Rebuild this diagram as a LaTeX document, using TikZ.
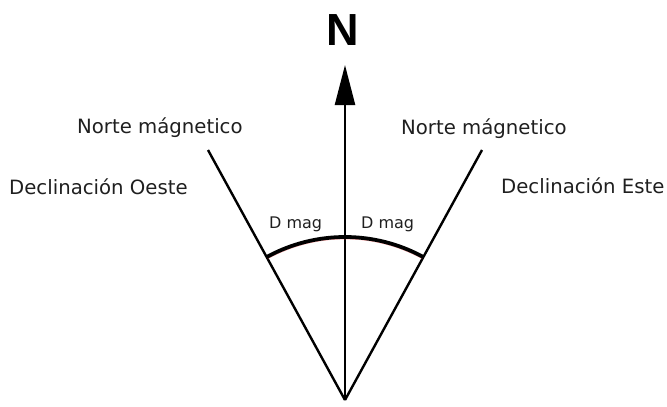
\documentclass[tikz,border=0pt]{standalone}
\usepackage{fontspec}
\setmainfont{DejaVu Sans}
\newfontfamily\arialfont{Liberation Sans}
\usetikzlibrary{arrows.meta}
\begin{document}
\begin{tikzpicture}[x=1pt,y=-1pt,
  lbl/.style={inner sep=0pt,anchor=base west,text=black!88,font=\fontsize{19.7}{23}\selectfont},
  dlbl/.style={inner sep=0pt,anchor=base west,text=black!88,font=\fontsize{16}{19}\selectfont},
  ray/.style={line width=2.4pt,black},
  arcline/.style={line width=3.8pt,black}]
\useasboundingbox (0,0) rectangle (667,407);
\coordinate (O) at (345,400);
\coordinate (Ntip) at (345,65);
\coordinate (L) at (208,150);
\coordinate (R) at (482,150);
\node[inner sep=0pt,anchor=base,font=\arialfont\bfseries\fontsize{45}{50}\selectfont] (Nlab) at (343,45) {N};
\draw[ray,-{Triangle[length=40pt,width=20pt]}] (O) -- (Ntip);
\draw[ray] (O) -- (L);
\draw[ray] (O) -- (R);
\draw[red!70,line width=0.6pt,opacity=0.5] ([shift={(-61.3:161)}]O) arc[start angle=-61.3,end angle=-118.7,radius=161];
\draw[arcline] ([shift={(-61.3:163)}]O) arc[start angle=-61.3,end angle=-118.7,radius=163];
\node[lbl] (nl) at (77,133) {Norte mágnetico};
\node[lbl] (dl) at (9,194) {Declinación Oeste};
\node[lbl] (nr) at (401,134) {Norte mágnetico};
\node[lbl] (dr) at (501,193) {Declinación Este};
\node[dlbl] (ml) at (269,228) {D mag};
\node[dlbl] (mr) at (361,228) {D mag};
\end{tikzpicture}
\end{document}
